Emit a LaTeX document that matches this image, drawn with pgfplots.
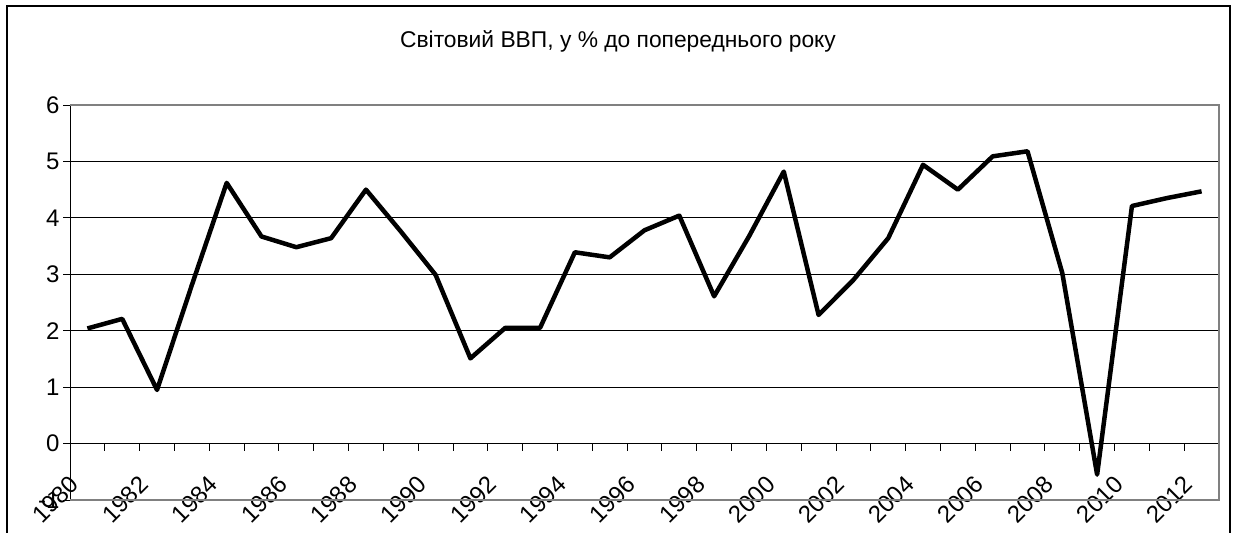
\documentclass[border=0pt]{standalone}
\usepackage{pgfplots}
\pgfplotsset{compat=1.18}
\usepackage{fontspec}
\setmainfont{Liberation Sans}
\begin{document}
\begin{tikzpicture}
\path[use as bounding box] (0,0) rectangle (1235pt,-533pt);
\draw[line width=2.5pt] (7pt,-533pt) -- (7pt,-6pt) -- (1230pt,-6pt) -- (1230pt,-533pt);
\node[font=\fontsize{22.8}{26}\selectfont] at (618pt,-41pt) {Світовий ВВП, у \% до попереднього року};
\begin{axis}[
  at={(70pt,-500pt)}, anchor=south west,
  scale only axis, width=1149pt, height=395pt,
  xmin=1979.5, xmax=2012.5, ymin=-1, ymax=6,
  axis x line=middle, axis y line=left,
  axis line style={-, black, line width=1pt},
  tick align=outside,
  major tick length=7pt,
  tick style={black, line width=1pt},
  xtick={1979.5,1980.5,1981.5,1982.5,1983.5,1984.5,1985.5,1986.5,1987.5,1988.5,1989.5,1990.5,1991.5,1992.5,1993.5,1994.5,1995.5,1996.5,1997.5,1998.5,1999.5,2000.5,2001.5,2002.5,2003.5,2004.5,2005.5,2006.5,2007.5,2008.5,2009.5,2010.5,2011.5,2012.5},
  xticklabels={},
  extra x ticks={1980,1982,1984,1986,1988,1990,1992,1994,1996,1998,2000,2002,2004,2006,2008,2010,2012},
  extra x tick labels={1980,1982,1984,1986,1988,1990,1992,1994,1996,1998,2000,2002,2004,2006,2008,2010,2012},
  extra x tick style={major tick length=0pt, xticklabel style={anchor=center, xshift=-32pt, yshift=-56pt, rotate=45}},
  ytick={-1,0,1,2,3,4,5,6},
  yticklabels={-1,0,1,2,3,4,5,6},
  extra y ticks={1,2,3,4,5},
  extra y tick labels={},
  extra y tick style={major tick length=0pt, ymajorgrids=true, major grid style={black, line width=1pt}},
  tick label style={font=\fontsize{24}{28}\selectfont},
  clip=false,
]
\draw[gray, line width=1.5pt] (rel axis cs:0,1) -- (rel axis cs:1,1) -- (rel axis cs:1,0) -- (rel axis cs:0,0);
\addplot[black, line width=4.5pt, line join=round] coordinates {
(1980,2.04) (1981,2.21) (1982,0.95) (1983,2.81) (1984,4.62) (1985,3.67) (1986,3.48) (1987,3.64)
(1988,4.50) (1989,3.76) (1990,2.99) (1991,1.51) (1992,2.05) (1993,2.05) (1994,3.39) (1995,3.30)
(1996,3.78) (1997,4.04) (1998,2.61) (1999,3.67) (2000,4.82) (2001,2.28) (2002,2.90) (2003,3.64)
(2004,4.94) (2005,4.50) (2006,5.09) (2007,5.18) (2008,3.02) (2009,-0.55) (2010,4.21) (2011,4.35)
(2012,4.47)
};
\end{axis}
\end{tikzpicture}
\end{document}
